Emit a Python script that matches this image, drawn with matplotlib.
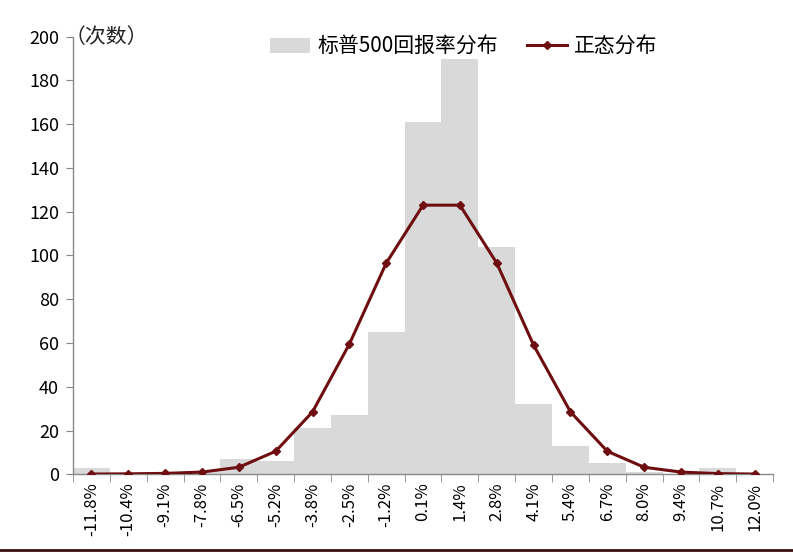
import matplotlib
matplotlib.use("Agg")
import matplotlib.pyplot as plt
import numpy as np
from matplotlib.lines import Line2D

plt.rcParams['font.family'] = ['Noto Sans CJK SC', 'DejaVu Sans']

categories = ["-11.8%", "-10.4%", "-9.1%", "-7.8%", "-6.5%", "-5.2%", "-3.8%", "-2.5%",
              "-1.2%", "0.1%", "1.4%", "2.8%", "4.1%", "5.4%", "6.7%", "8.0%",
              "9.4%", "10.7%", "12.0%"]
sp500_counts = [3, 0, 1, 1.5, 7, 6, 21, 27, 65, 161, 190, 104, 32, 13, 5, 1, 0, 3, 0]
normal_counts = [0.1, 0.2, 0.4, 1, 3.2, 10.5, 28.5, 59.5, 96.5, 123, 123, 96.5, 59, 28.5, 10.5, 3.2, 1, 0.3, 0.1]

bar_color = '#D9D9D9'
line_color = '#6E0E10'

fig = plt.figure(figsize=(7.93, 5.56), dpi=100)
ax = fig.add_axes([0.092, 0.147, 0.883, 0.787])

x = np.arange(len(categories))
bars = ax.bar(x, sp500_counts, width=1.0, color=bar_color, label='标普500回报率分布', zorder=1)
line, = ax.plot(x, normal_counts, color=line_color, lw=2.2, marker='D', markersize=4,
                markerfacecolor=line_color, markeredgecolor=line_color, label='正态分布', zorder=3)

ax.set_xlim(-0.5, len(categories) - 0.5)
ax.set_ylim(0, 200)
ax.set_yticks(np.arange(0, 201, 20))
ax.tick_params(axis='y', labelsize=13, length=5, color='#888888', direction='out', pad=5)

ax.set_xticks(x)
ax.set_xticklabels(categories, rotation=90, fontsize=12)
ax.tick_params(axis='x', length=0, pad=6)
ax.set_xticks(np.arange(-0.5, len(categories), 1), minor=True)
ax.tick_params(axis='x', which='minor', length=6, color='#888888', direction='out')

for s in ['top', 'right']:
    ax.spines[s].set_visible(False)
for s in ['left', 'bottom']:
    ax.spines[s].set_color('#888888')
    ax.spines[s].set_linewidth(1.0)

ax.text(-0.012, 1.0, '（次数）', transform=ax.transAxes, fontsize=15, va='center', ha='left',
        color='#222222')

leg = ax.legend([bars, line], ['标普500回报率分布', '正态分布'], loc='upper left',
                bbox_to_anchor=(0.255, 1.045), ncol=2, frameon=False,
                fontsize=15, handlelength=1.9, columnspacing=1.4, handletextpad=0.35)

fig.add_artist(Line2D([0, 1], [0.011, 0.011], transform=fig.transFigure, color='#3a1010', lw=2))

fig.savefig('out.png', dpi=100)
